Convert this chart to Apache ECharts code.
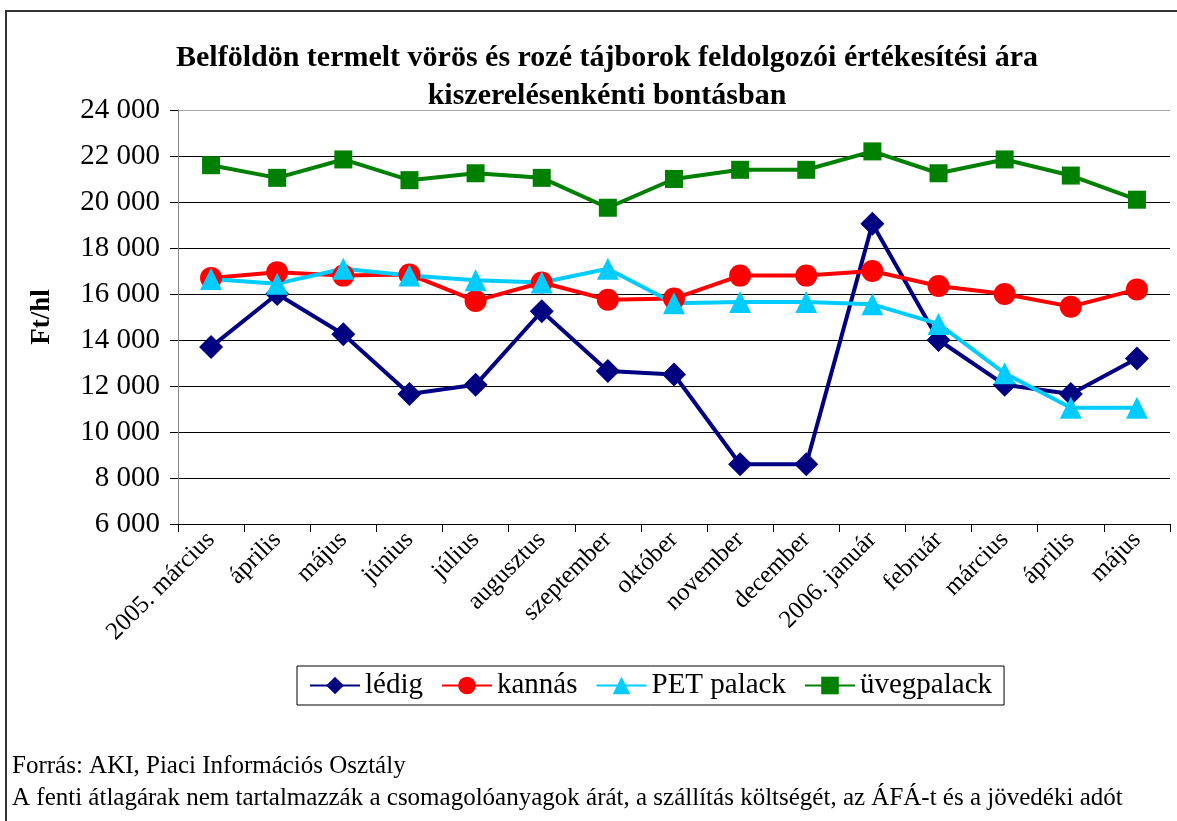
<!DOCTYPE html>
<html>
<head>
<meta charset="utf-8">
<script src="https://cdn.jsdelivr.net/npm/echarts@6/dist/echarts.min.js"></script>
<style>
  html, body { margin: 0; padding: 0; background: #fff; }
  #chart { width: 1177px; height: 821px; }
</style>
</head>
<body>
<div id="chart"></div>
<script>
// hónapok
const categories = ['2005. március', 'április', 'május', 'június', 'július', 'augusztus', 'szeptember',
  'október', 'november', 'december', '2006. január', 'február', 'március', 'április', 'május']

// Ft/hl értékek
const ledig = [13700, 16000, 14250, 11650, 12050, 15250, 12650, 12500, 8600, 8600, 19050, 14000, 12050, 11650, 13200]
const kannas = [16700, 16950, 16800, 16850, 15700, 16500, 15750, 15800, 16800, 16800, 17000, 16350, 16000, 15450, 16200]
const petPalack = [16650, 16450, 17100, 16800, 16600, 16500, 17100, 15600, 15650, 15650, 15550, 14700, 12550, 11050, 11050]
const uvegpalack = [21600, 21050, 21850, 20950, 21250, 21050, 19750, 21000, 21400, 21400, 22200, 21250, 21850, 21150, 20100]

const seriesNames = ['lédig', 'kannás', 'PET palack', 'üvegpalack']

const font = 'Liberation Serif'
const myChart = echarts.init(document.getElementById('chart'))

const mkSeries = (name, data, color, symbol, size) => ({
  name: name,
  type: 'line',
  data: data,
  symbol: symbol,
  symbolSize: size,
  lineStyle: { color: color, width: 4 },
  itemStyle: { color: color },
  animation: false
})

// rácsvonalak: a legfelső halványabb
const gridColors = ['#000', '#000', '#000', '#000', '#000', '#000', '#000', '#000', '#000', '#aaa']

const option = {
  backgroundColor: '#fff',
  textStyle: { fontFamily: font },
  title: {
    text: 'Belföldön termelt vörös és rozé tájborok feldolgozói értékesítési ára\nkiszerelésenkénti bontásban',
    left: 602,
    textAlign: 'center',
    top: 34,
    textStyle: { fontFamily: font, fontWeight: 'bold', fontSize: 30, color: '#000', lineHeight: 38 }
  },
  legend: {
    data: seriesNames,
    left: 297,
    top: 666,
    padding: [5, 12, 5, 12],
    borderColor: '#000',
    borderWidth: 1,
    itemWidth: 50,
    itemHeight: 22,
    itemGap: 18,
    textStyle: { fontFamily: font, fontSize: 29, color: '#000' }
  },
  grid: { left: 178, right: 7, top: 110, bottom: 297 },
  xAxis: {
    type: 'category',
    data: categories,
    boundaryGap: true,
    axisLine: { lineStyle: { color: '#000', width: 1 } },
    axisTick: { show: true, length: 8, interval: 0, lineStyle: { color: '#000' } },
    axisLabel: {
      interval: 0, rotate: 45, margin: 12,
      fontFamily: font, fontSize: 25, color: '#000'
    }
  },
  yAxis: {
    type: 'value',
    name: 'Ft/hl',
    nameLocation: 'middle',
    nameGap: 122,
    nameRotate: 90,
    nameTextStyle: { fontFamily: font, fontWeight: 'bold', fontSize: 27, color: '#000' },
    min: 6000,
    max: 24000,
    interval: 2000,
    axisLine: { show: true, lineStyle: { color: '#888' } },
    axisTick: { show: true, inside: false, length: 8, lineStyle: { color: '#000' } },
    axisLabel: {
      fontFamily: font, fontSize: 29, color: '#000', margin: 18,
      formatter: v => String(v).replace(/\B(?=(\d{3})+(?!\d))/g, ' ')
    },
    splitLine: { show: true, lineStyle: { color: gridColors, width: 1 } }
  },
  graphic: [
    {
      type: 'rect',
      shape: { x: 6, y: 11, width: 1180, height: 820 },
      style: { fill: 'none', stroke: '#333', lineWidth: 2 },
      silent: true
    },
    {
      type: 'text',
      left: 12, top: 754,
      style: { text: 'Forrás: AKI, Piaci Információs Osztály', font: '25px "Liberation Serif"', fill: '#000' }
    },
    {
      type: 'text',
      left: 12, top: 786,
      style: { text: 'A fenti átlagárak nem tartalmazzák a csomagolóanyagok árát, a szállítás költségét, az ÁFÁ-t és a jövedéki adót', font: '25px "Liberation Serif"', fill: '#000' }
    }
  ],
  series: [
    mkSeries('lédig', ledig, '#000080', 'diamond', 24),
    mkSeries('kannás', kannas, '#ff0000', 'circle', 22),
    mkSeries('PET palack', petPalack, '#00ccff', 'triangle', 22),
    mkSeries('üvegpalack', uvegpalack, '#008000', 'rect', 18)
  ]
}
myChart.setOption(option)
</script>
</body>
</html>
